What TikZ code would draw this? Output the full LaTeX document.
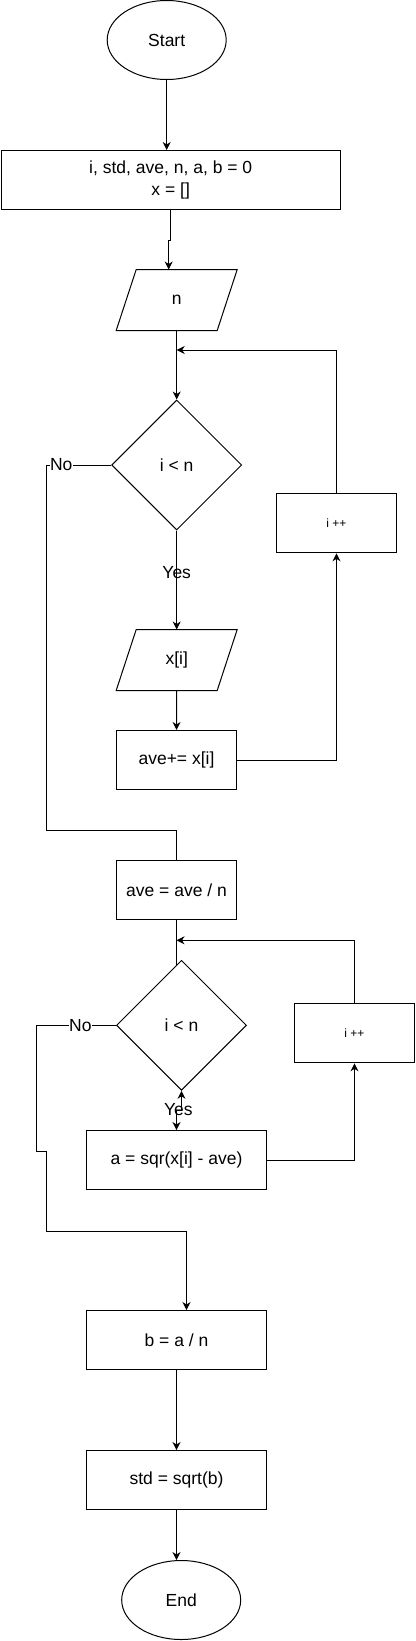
\documentclass[tikz,border=0pt]{standalone}
\usepackage{fontspec}
\setmainfont{Liberation Sans}
\usetikzlibrary{shapes.geometric,arrows.meta}
\begin{document}
\begin{tikzpicture}[x=1pt,y=-1pt,line width=1pt,
  txt/.style={font=\fontsize{17.5}{21.5}\selectfont},
  box/.style={txt,draw,rectangle,inner sep=0pt,minimum height=59pt,align=center},
  term/.style={txt,draw,ellipse,inner sep=0pt,minimum width=119pt,minimum height=79pt},
  dec/.style={txt,draw,diamond,inner sep=0pt,minimum width=130pt,minimum height=130pt,aspect=1},
  iobox/.style={txt,rectangle,inner sep=0pt,minimum width=120pt,minimum height=60pt},
  lbl/.style={txt,inner sep=0.5pt},
  arr/.style={-{Stealth[length=8pt,width=8pt,inset=2.5pt]}},
  darr/.style={{Stealth[length=8pt,width=8pt,inset=2.5pt]}-{Stealth[length=8pt,width=8pt,inset=2.5pt]}}]
\useasboundingbox (0,0) rectangle (415,1641);
% nodes
\node[term] (start) at (166.7,40) {Start};
\node[box,minimum width=339pt] (init) at (170.7,180) {i, std, ave, n, a, b = 0\\x = []};
\node[iobox] (n) at (176.7,300) {n};
\draw ([xshift=20pt]n.north west) -- (n.north east) -- ([xshift=-20pt]n.south east) -- (n.south west) -- cycle;
\node[dec] (d1) at (176.7,465) {i < n};
\node[box,minimum width=120pt,font=\fontsize{12}{14}\selectfont] (inc1) at (336.5,523.3) {i ++};
\node[iobox] (xi) at (176.7,660) {x[i]};
\draw ([xshift=20pt]xi.north west) -- (xi.north east) -- ([xshift=-20pt]xi.south east) -- (xi.south west) -- cycle;
\node[box,minimum width=120pt] (avep) at (176.5,760) {ave+= x[i]};
\node[box,minimum width=120pt] (ave2) at (176.5,890) {ave = ave / n};
\node[dec] (d2) at (181.5,1025.3) {i < n};
\node[box,minimum width=120pt,font=\fontsize{12}{14}\selectfont] (inc2) at (354.5,1033.3) {i ++};
\node[box,minimum width=180pt] (a) at (176.5,1160) {a = sqr(x[i] - ave)};
\node[box,minimum width=180pt] (b) at (176.5,1340) {b = a / n};
\node[box,minimum width=180pt] (std) at (176.5,1480) {std = sqrt(b)};
\node[term] (end) at (181.2,1600) {End};
% helper coordinates
\coordinate (j1) at (176.7,350);
\coordinate (j2) at (176.5,940.3);
\coordinate (c1) at (46.7,465);
\coordinate (c2) at (46.7,830);
\coordinate (c3) at (36.7,1025.3);
\coordinate (c4) at (36.7,1151);
\coordinate (c5) at (46.7,1151);
\coordinate (c6) at (46.7,1231);
% connectors
\draw[arr] (start.south) -- (start.south |- init.north);
\draw[arr] (init.south) -- ++(0,30) -| ([xshift=-8pt]n.north);
\draw[arr] (n.south) -- (d1.north);
\draw (d1.west) -- (c1) -- (c2) -| (ave2.north);
\node[lbl,fill=white] (no1) at (61.2,465) {No};
\draw[arr] (d1.south) -- (xi.north);
\node[lbl] (yes1) at (176.7,572.7) {Yes};
\draw[arr] (xi.south) -- (avep.north);
\draw[arr] (avep.east) -| (inc1.south);
\draw[arr] (inc1.north) |- (j1);
\draw (ave2.south) -- ++(0,45);
\draw[arr] (inc2.north) |- (j2);
\draw[arr] (d2.west) -- (c3) -- (c4) -- (c5) -- (c6) -| ([xshift=10pt]b.north);
\node[lbl,fill=white] (no2) at (80.3,1025.3) {No};
\draw[darr] (d2.south) -- ++(0,20) -| (a.north);
\node[lbl] (yes2) at (178.3,1110) {Yes};
\draw[arr] (a.east) -| (inc2.south);
\draw[arr] (b.south) -- (std.north);
\draw[arr] (std.south) -- (std.south |- end.north);
\end{tikzpicture}
\end{document}
